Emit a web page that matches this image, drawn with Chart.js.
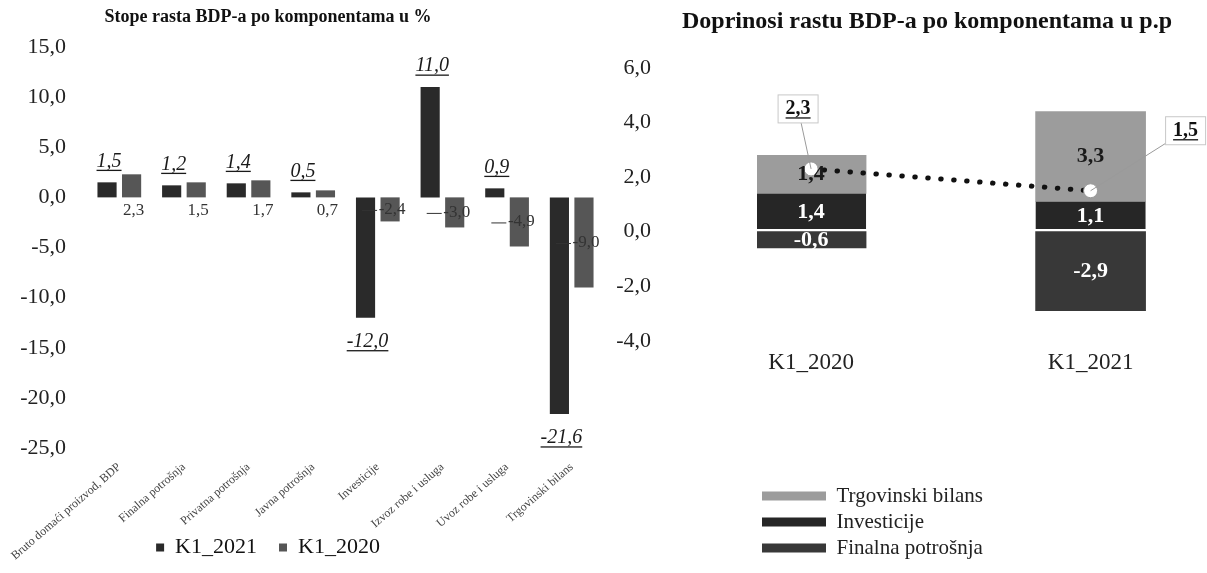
<!DOCTYPE html>
<html>
<head>
<meta charset="utf-8">
<script src="https://cdn.jsdelivr.net/npm/chart.js@4.4.1/dist/chart.umd.min.js"></script>
<style>
  html, body { margin: 0; padding: 0; background: #fff; overflow: hidden; }
  body { width: 1207px; height: 573px; position: relative; }
  .box { position: absolute; top: 0; }
  #left { left: -80px; width: 690px; height: 573px; }
  #right { left: 600px; width: 654px; height: 660px; }
</style>
</head>
<body>
<div class="box" id="left"><canvas id="rates"></canvas></div>
<div class="box" id="right"><canvas id="contrib"></canvas></div>
<script>
// left: growth rates by component, %
var COMPONENTS = [
  'Bruto domaći proizvod, BDP',
  'Finalna potrošnja',
  'Privatna potrošnja',
  'Javna potrošnja',
  'Investicije',
  'Izvoz robe i usluga',
  'Uvoz robe i usluga',
  'Trgovinski bilans'
];
var K1_2021 = [1.5, 1.2, 1.4, 0.5, -12.0, 11.0, 0.9, -21.6];
var K1_2020 = [2.3, 1.5, 1.7, 0.7, -2.4, -3.0, -4.9, -9.0];
var RATE_TICKS = [15, 10, 5, 0, -5, -10, -15, -20, -25];

// right: contributions to growth, p.p.
var QUARTERS = ['K1_2020', 'K1_2021'];
var FINALNA = [-0.6, -2.9];
var INVESTICIJE = [1.4, 1.1];
var TRGOVINSKI = [1.4, 3.3];
var BDP_RAST = [2.3, 1.5];
var CONTRIB_TICKS = [6, 4, 2, 0, -2, -4];

Chart.defaults.font.family = '"Liberation Serif", "Times New Roman", serif';
Chart.defaults.color = '#222';

function fmt(v) { return Number(v).toFixed(1).replace('.', ','); }

function underline(ctx, text, x, y, size) {
  var w = ctx.measureText(text).width;
  ctx.fillRect(x - w / 2, y + size * 0.42, w, 1.3);
}

var rateLabels = {
  id: 'rateLabels',
  afterLayout: function (chart) {
    // rotated category names run down past the legend row, keep them unclipped
    chart.scales.x.bottom = chart.height;
  },
  afterDatasetsDraw: function (chart) {
    var ctx = chart.ctx;
    ctx.save();
    ctx.textAlign = 'center';
    ctx.textBaseline = 'middle';
    ctx.fillStyle = '#1a1a1a';
    ctx.font = 'italic 20px "Liberation Serif"';
    chart.getDatasetMeta(0).data.forEach(function (bar, i) {
      var v = K1_2021[i];
      var y = v >= 0 ? bar.y - 21 : bar.y + 24;
      ctx.fillText(fmt(v), bar.x + 2, y);
      underline(ctx, fmt(v), bar.x + 2, y, 20);
    });
    ctx.font = '17px "Liberation Serif"';
    ctx.fillStyle = '#333';
    ctx.strokeStyle = '#333';
    ctx.lineWidth = 1;
    chart.getDatasetMeta(1).data.forEach(function (bar, i) {
      var v = K1_2020[i];
      if (v >= 0) {
        ctx.fillText(fmt(v), bar.x + 2, bar.base + 13);
      } else {
        var y = (bar.y + bar.base) / 2;
        ctx.beginPath();
        ctx.moveTo(bar.x - 28, y + 1);
        ctx.lineTo(bar.x - 13, y + 1);
        ctx.stroke();
        ctx.fillText(fmt(v), bar.x + 2, y);
      }
    });
    ctx.restore();
  }
};

new Chart(document.getElementById('rates'), {
  type: 'bar',
  data: {
    labels: COMPONENTS,
    datasets: [{
      label: 'K1_2021',
      data: K1_2021,
      backgroundColor: '#2a2a2a',
      categoryPercentage: 0.76,
      barPercentage: 0.78
    }, {
      label: 'K1_2020',
      data: K1_2020,
      backgroundColor: '#565656',
      categoryPercentage: 0.76,
      barPercentage: 0.78
    }]
  },
  options: {
    responsive: true,
    maintainAspectRatio: false,
    animation: false,
    layout: { padding: { left: 12, right: 6, top: 0, bottom: 4.5 } },
    plugins: {
      title: {
        display: true,
        text: 'Stope rasta BDP-a po komponentama u %',
        font: { size: 18, weight: 'bold' },
        color: '#111',
        padding: { top: 7, bottom: 18.4 }
      },
      legend: {
        position: 'bottom',
        labels: {
          usePointStyle: true,
          pointStyle: 'rect',
          boxWidth: 8,
          boxHeight: 8,
          padding: 22,
          font: { size: 22 },
          color: '#111'
        }
      },
      tooltip: { enabled: false }
    },
    scales: {
      x: {
        grid: { display: false, drawTicks: false },
        border: { display: false },
        afterFit: function (s) { s.height = 66.5; },
        ticks: {
          autoSkip: false,
          minRotation: 41,
          maxRotation: 41,
          padding: 12,
          font: { size: 12 },
          color: '#444'
        }
      },
      y: {
        min: -25,
        max: 15,
        grid: { display: false, drawTicks: false },
        border: { display: false },
        afterBuildTicks: function (s) {
          s.ticks = RATE_TICKS.map(function (v) { return { value: v }; });
        },
        afterFit: function (s) { s.width = 155; },
        ticks: { padding: 21, font: { size: 22 }, color: '#222', callback: fmt }
      }
    }
  },
  plugins: [rateLabels]
});

// callout offsets for the total growth labels (style only)
var CALLOUT_SHIFT = [[-13, -60], [95, -60]];

var contribLabels = {
  id: 'contribLabels',
  afterDatasetsDraw: function (chart) {
    var ctx = chart.ctx;
    ctx.save();
    ctx.textAlign = 'center';
    ctx.textBaseline = 'middle';
    ctx.font = 'bold 22px "Liberation Serif"';
    chart.data.datasets.forEach(function (ds, di) {
      if (ds.type === 'line') return;
      ctx.fillStyle = ds.labelColor;
      chart.getDatasetMeta(di).data.forEach(function (bar, i) {
        ctx.fillText(fmt(ds.data[i].y), bar.x, (bar.y + bar.base) / 2);
      });
    });

    var lineIdx = chart.data.datasets.findIndex(function (ds) { return ds.type === 'line'; });
    ctx.font = 'bold 20px "Liberation Serif"';
    chart.getDatasetMeta(lineIdx).data.forEach(function (pt, i) {
      var bx = pt.x + CALLOUT_SHIFT[i][0];
      var by = pt.y + CALLOUT_SHIFT[i][1];
      ctx.strokeStyle = '#9a9a9a';
      ctx.lineWidth = 1;
      ctx.beginPath();
      ctx.moveTo(pt.x, pt.y);
      ctx.lineTo(bx, by);
      ctx.stroke();
      ctx.fillStyle = '#fff';
      ctx.strokeStyle = '#c8c8c8';
      ctx.fillRect(bx - 20, by - 14, 40, 28);
      ctx.strokeRect(bx - 20, by - 14, 40, 28);
      ctx.fillStyle = '#111';
      ctx.fillText(fmt(BDP_RAST[i]), bx, by);
      underline(ctx, fmt(BDP_RAST[i]), bx, by, 20);
    });
    ctx.restore();
  }
};

function points(arr) {
  return arr.map(function (v, i) { return { x: i, y: v }; });
}

new Chart(document.getElementById('contrib'), {
  type: 'bar',
  data: {
    datasets: [{
      type: 'line',
      label: 'BDP',
      data: points(BDP_RAST),
      stack: 'total',
      order: 0,
      borderColor: '#111',
      borderWidth: 5,
      borderDash: [0.5, 12.5],
      borderCapStyle: 'round',
      pointRadius: 7,
      pointBackgroundColor: '#fff',
      pointBorderColor: '#999',
      pointBorderWidth: 1
    }, {
      label: 'Finalna potrošnja',
      data: points(FINALNA),
      order: 1,
      backgroundColor: '#383838',
      borderWidth: 0,
      barThickness: 110,
      labelColor: '#fff'
    }, {
      label: 'Investicije',
      data: points(INVESTICIJE),
      order: 1,
      backgroundColor: '#262626',
      borderColor: '#fff',
      borderWidth: { top: 0, right: 0, bottom: 3, left: 0 },
      borderSkipped: false,
      barThickness: 110,
      labelColor: '#fff'
    }, {
      label: 'Trgovinski bilans',
      data: points(TRGOVINSKI),
      order: 1,
      backgroundColor: '#9c9c9c',
      borderWidth: 0,
      barThickness: 110,
      labelColor: '#1a1a1a'
    }]
  },
  options: {
    responsive: true,
    maintainAspectRatio: false,
    animation: false,
    layout: { padding: { left: 0, right: 0, top: 0, bottom: 28.5 } },
    plugins: {
      title: {
        display: true,
        text: 'Doprinosi rastu BDP-a po komponentama u p.p',
        font: { size: 24, weight: 'bold' },
        color: '#111',
        padding: { top: 7.6, bottom: 31.6 }
      },
      legend: {
        position: 'chartArea',
        align: 'end',
        reverse: true,
        labels: {
          boxWidth: 64,
          boxHeight: 9,
          padding: 5,
          font: { size: 21 },
          color: '#222',
          filter: function (item) { return item.text !== 'BDP'; },
          generateLabels: function (chart) {
            return Chart.defaults.plugins.legend.labels.generateLabels(chart).map(function (l) {
              l.lineWidth = 0;
              return l;
            });
          }
        }
      },
      tooltip: { enabled: false }
    },
    scales: {
      x: {
        type: 'linear',
        offset: false,
        stacked: true,
        min: -0.1935,
        max: 1.556,
        position: { y: -4 },
        grid: { display: false, drawTicks: false },
        border: { display: false },
        afterBuildTicks: function (s) {
          s.ticks = QUARTERS.map(function (q, i) { return { value: i }; });
        },
        afterFit: function (s) { s.height = 0; },
        ticks: {
          padding: 8,
          font: { size: 23 },
          color: '#222',
          callback: function (v) { return QUARTERS[v]; }
        }
      },
      y: {
        stacked: true,
        position: 'left',
        weight: 1,
        min: -14.66,
        max: 6,
        grid: { display: false, drawTicks: false },
        border: { display: false },
        afterBuildTicks: function (s) {
          s.ticks = CONTRIB_TICKS.map(function (v) { return { value: v }; });
        },
        afterFit: function (s) { s.width = 62; },
        ticks: { padding: 11, font: { size: 22 }, color: '#222', callback: fmt }
      },
      // empty gap between the tick labels and the bars
      gap: {
        type: 'linear',
        position: 'left',
        weight: 0,
        grid: { display: false, drawTicks: false },
        border: { display: false },
        ticks: { display: false },
        afterFit: function (s) { s.width = 95; }
      }
    }
  },
  plugins: [contribLabels]
});
</script>
</body>
</html>
